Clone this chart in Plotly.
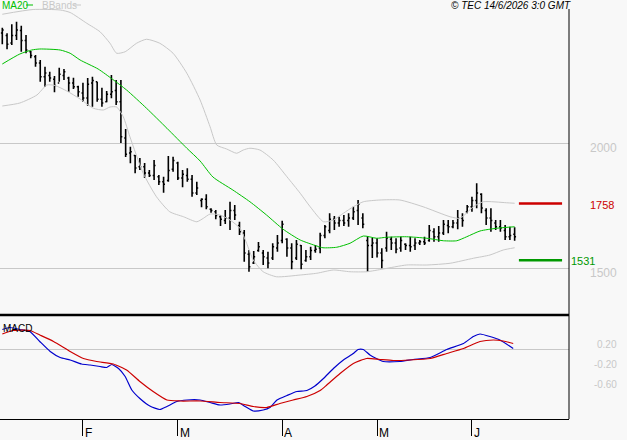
import pandas as pd
import plotly.graph_objects as go

# ---------------- data ----------------
holidays = ["2026-01-01", "2026-04-03", "2026-04-06", "2026-05-01"]
all_days = pd.bdate_range("2026-01-08", "2026-06-12")
dates = [d for d in all_days if d.strftime("%Y-%m-%d") not in holidays]
idx = list(range(len(dates)))

high = [2461, 2439, 2475, 2485, 2469, 2432, 2368, 2352, 2332, 2305, 2285, 2268, 2301, 2296, 2265, 2261, 2229,
        2241, 2260, 2265, 2245, 2221, 2208, 2272, 2252, 2252, 2056, 1985, 1952, 1940, 1920, 1892, 1932, 1872, 1865, 1948, 1945,
        1925, 1892, 1899, 1872, 1845, 1779, 1795, 1739, 1732, 1712, 1732, 1765, 1752, 1685, 1652, 1572, 1568, 1604, 1572, 1565, 1599, 1632,
        1689, 1619, 1599, 1612, 1592, 1572, 1585, 1592, 1641, 1672, 1719, 1708, 1705, 1712, 1719, 1745, 1772, 1719, 1628, 1620,
        1619, 1579, 1645, 1625, 1619, 1625, 1599, 1625, 1619, 1612, 1625, 1672, 1659, 1668, 1692, 1692, 1692, 1732, 1719, 1752,
        1785, 1839, 1799, 1739, 1739, 1692, 1692, 1672, 1665, 1663]
low = [2395, 2375, 2392, 2412, 2365, 2359, 2339, 2305, 2245, 2225, 2245, 2203, 2245, 2252, 2205, 2216, 2185,
       2165, 2149, 2145, 2165, 2145, 2163, 2179, 2152, 2000, 1944, 1919, 1879, 1892, 1860, 1864, 1852, 1832, 1801, 1845, 1885,
       1852, 1823, 1845, 1785, 1792, 1743, 1735, 1721, 1695, 1668, 1676, 1652, 1692, 1632, 1525, 1485, 1516, 1565, 1512, 1499, 1532, 1565,
       1599, 1545, 1495, 1532, 1495, 1525, 1532, 1561, 1559, 1619, 1639, 1652, 1665, 1668, 1665, 1692, 1672, 1659, 1484, 1540,
       1542, 1499, 1565, 1572, 1559, 1565, 1572, 1565, 1572, 1592, 1592, 1605, 1605, 1605, 1632, 1639, 1659, 1655, 1665, 1719,
       1725, 1739, 1719, 1672, 1645, 1652, 1645, 1612, 1612, 1609]
open_ = [2440, 2430, 2400, 2430, 2450, 2410, 2365, 2345, 2320, 2265, 2270, 2255, 2240, 2270, 2260, 2240, 2225,
         2200, 2180, 2240, 2245, 2175, 2165, 2195, 2210, 2165, 2020, 1960, 1950, 1905, 1905, 1880, 1870, 1865, 1845, 1850, 1895,
         1920, 1860, 1870, 1855, 1800, 1770, 1775, 1735, 1725, 1705, 1690, 1700, 1730, 1670, 1640, 1555, 1520, 1570, 1560, 1540, 1540, 1580,
         1610, 1615, 1580, 1540, 1590, 1530, 1545, 1570, 1580, 1630, 1650, 1695, 1680, 1690, 1690, 1700, 1730, 1700, 1610, 1590,
         1600, 1560, 1580, 1615, 1600, 1580, 1595, 1590, 1590, 1600, 1605, 1610, 1645, 1625, 1640, 1670, 1665, 1680, 1700, 1725,
         1745, 1770, 1795, 1730, 1700, 1680, 1665, 1650, 1625, 1635]
close = [2452, 2395, 2430, 2452, 2410, 2372, 2350, 2320, 2265, 2280, 2260, 2230, 2275, 2285, 2240, 2225, 2205,
         2180, 2235, 2250, 2175, 2160, 2195, 2205, 2165, 2025, 1955, 1965, 1900, 1905, 1880, 1870, 1910, 1845, 1835, 1890, 1930,
         1860, 1875, 1855, 1800, 1820, 1775, 1745, 1730, 1710, 1695, 1700, 1730, 1712, 1645, 1560, 1505, 1545, 1585, 1545, 1520, 1585, 1600,
         1675, 1580, 1525, 1595, 1515, 1545, 1570, 1575, 1630, 1665, 1695, 1680, 1690, 1680, 1700, 1725, 1755, 1675, 1590, 1600,
         1560, 1530, 1620, 1600, 1575, 1610, 1590, 1585, 1600, 1605, 1600, 1650, 1625, 1640, 1675, 1665, 1680, 1700, 1690, 1745,
         1770, 1800, 1740, 1700, 1690, 1665, 1660, 1625, 1630, 1625]

# MA20 and Bollinger bands (bar index, price)
ma_x = [0, 3.7, 6.2, 7.9, 12.2, 14.3, 16.4, 20.2, 23.3, 26.2, 30.4, 34.7, 38.9, 41.7, 44.4, 48.6, 52.2, 55.7,
        59.2, 62.8, 66.3, 67.6, 70.5, 73.3, 76.1, 78.9, 81.0, 85.2, 89.5, 93.0, 95.8, 97.9, 100.7, 104.2, 108]
ma_val = [2316, 2356, 2372, 2376, 2372, 2359, 2332, 2296, 2254, 2212, 2139, 2059, 1979, 1928, 1864, 1812, 1765, 1712,
          1655, 1612, 1588, 1581, 1583, 1599, 1628, 1619, 1623, 1625, 1619, 1609, 1609, 1625, 1648, 1659, 1665]
up_x = [0, 6.5, 12.2, 14.3, 17.8, 20.6, 22.7, 24.1, 25.9, 28.3, 30.4, 33.2, 36.0, 38.9, 41.7, 43.8, 45.2, 47.3,
        49.4, 50.8, 52.2, 54.3, 57.1, 60.0, 62.8, 64.9, 67.7, 69.8, 71.9, 74.0, 76.1, 79.6, 83.8, 88.7, 94.4, 96.5,
        99.3, 101.4, 106.3, 108]
up_val = [2515, 2534, 2532, 2522, 2479, 2445, 2399, 2359, 2365, 2399, 2415, 2399, 2359, 2279, 2172, 2065, 1992, 1976,
          1959, 1972, 1979, 1972, 1932, 1865, 1799, 1745, 1685, 1692, 1719, 1745, 1765, 1772, 1772, 1745, 1705, 1699,
          1745, 1765, 1761, 1759]
lo_x = [0, 3.7, 7.3, 9.4, 11.1, 13.6, 16.4, 19.2, 21.3, 22.7, 24.1, 25.5, 26.9, 29.7, 32.5, 35.3, 38.2, 41.0,
        42.4, 43.8, 45.9, 48.0, 50.1, 51.5, 52.9, 55.0, 57.8, 62.8, 66.3, 69.8, 73.3, 76.8, 80.3, 85.2, 89.5, 94.4,
        99.3, 102.8, 105.6, 108]
lo_val = [2148, 2160, 2192, 2232, 2230, 2208, 2176, 2139, 2132, 2144, 2144, 2105, 2025, 1879, 1785, 1725, 1705, 1685,
          1699, 1716, 1712, 1692, 1659, 1599, 1532, 1485, 1465, 1472, 1479, 1492, 1485, 1485, 1496, 1512, 1512, 1519,
          1539, 1552, 1572, 1581]

# MACD (blue) and signal (red)
macd_x = [0, 1.6, 3.7, 5.8, 7.9, 10.1, 12.2, 14.3, 16.7, 18.5, 20.6, 22.0, 23.1, 24.5, 25.9, 27.3, 29.0, 31.1,
          33.2, 34.7, 36.8, 38.9, 41.7, 43.8, 45.9, 48.0, 49.8, 51.2, 52.9, 55.0, 56.4, 57.9, 60.0, 62.1, 64.2,
          65.9, 67.7, 69.8, 71.9, 74.0, 75.0, 76.1, 77.5, 80.3, 83.8, 86.6, 90.2, 93.7, 97.2, 99.3, 100.7, 102.8,
          104.9, 107.7]
macd_val = [0.39, 0.43, 0.39, 0.35, 0.15, -0.05, -0.17, -0.22, -0.30, -0.32, -0.35, -0.37, -0.31, -0.39, -0.55,
            -0.82, -0.99, -1.14, -1.21, -1.15, -1.05, -1.02, -1.02, -1.07, -1.12, -1.10, -1.07, -1.15, -1.24, -1.22,
            -1.17, -1.02, -0.93, -0.85, -0.83, -0.74, -0.59, -0.39, -0.22, -0.09, -0.01, -0.01, -0.12, -0.25, -0.25,
            -0.21, -0.17, -0.01, 0.11, 0.25, 0.30, 0.25, 0.18, 0.01]
sig_x = [0, 2.3, 5.8, 7.9, 10.8, 14.3, 17.1, 19.9, 23.4, 26.2, 29.0, 31.8, 34.7, 37.5, 41.7, 45.9, 50.1, 52.9,
         55.7, 58.5, 61.3, 64.2, 67.0, 68.4, 71.2, 74.0, 76.8, 79.6, 82.4, 85.9, 90.2, 93.7, 97.2, 100.7, 103.5,
         105.6, 107.7]
sig_val = [0.30, 0.37, 0.37, 0.28, 0.15, -0.05, -0.19, -0.25, -0.30, -0.42, -0.65, -0.85, -1.02, -1.04, -1.04,
           -1.07, -1.09, -1.15, -1.17, -1.09, -1.02, -0.95, -0.83, -0.72, -0.49, -0.29, -0.19, -0.21, -0.23, -0.22,
           -0.19, -0.09, 0.01, 0.15, 0.18, 0.16, 0.11]

resistance = 1758
support = 1531
price_ticks = [1500, 2000]
macd_ticks = [0.2, -0.2, -0.6]
month_labels = ["F", "M", "A", "M", "J"]

# ---------------- figure ----------------
BG = "#f8f8f8"
GRID = "#c8c8c8"
FONT = "Liberation Sans"

month_idx = []
for i, d in enumerate(dates):
    if i > 0 and d.month != dates[i - 1].month:
        month_idx.append(i)

fig = go.Figure()
fig.add_trace(go.Scatter(x=up_x, y=up_val, mode="lines", line=dict(color=GRID, width=1, shape="spline", smoothing=0.6),
                         xaxis="x", yaxis="y", hoverinfo="skip"))
fig.add_trace(go.Scatter(x=lo_x, y=lo_val, mode="lines", line=dict(color=GRID, width=1, shape="spline", smoothing=0.6),
                         xaxis="x", yaxis="y", hoverinfo="skip"))
fig.add_trace(go.Scatter(x=ma_x, y=ma_val, mode="lines", line=dict(color="#00c000", width=1, shape="spline", smoothing=0.6),
                         xaxis="x", yaxis="y", hoverinfo="skip"))
fig.add_trace(go.Ohlc(x=idx, open=open_, high=high, low=low, close=close,
                      increasing=dict(line=dict(color="black", width=1.6)),
                      decreasing=dict(line=dict(color="black", width=1.6)),
                      tickwidth=0.3, xaxis="x", yaxis="y"))
fig.add_trace(go.Scatter(x=macd_x, y=macd_val, mode="lines", line=dict(color="#0000cc", width=1.2, shape="spline", smoothing=0.5),
                         xaxis="x", yaxis="y2", hoverinfo="skip"))
fig.add_trace(go.Scatter(x=sig_x, y=sig_val, mode="lines", line=dict(color="#cc0000", width=1.2, shape="spline", smoothing=0.5),
                         xaxis="x", yaxis="y2", hoverinfo="skip"))

PH = 419.0  # plot height in px
fig.update_layout(
    width=627, height=440,
    margin=dict(l=0, r=58, t=0, b=21),
    paper_bgcolor=BG, plot_bgcolor=BG,
    showlegend=False,
    font=dict(family=FONT, size=10, color="black"),
    xaxis=dict(range=[-0.485, 119.46], anchor="y2", showgrid=False, zeroline=False,
               showline=True, linecolor="black", linewidth=1,
               ticks="outside", ticklen=16, tickwidth=1, tickcolor="black",
               tickvals=month_idx, showticklabels=False,
               rangeslider=dict(visible=False)),
    yaxis=dict(domain=[(PH - 313) / PH, 1], range=[1320, 2572], side="right",
               tickvals=price_ticks, showticklabels=False, gridcolor=GRID, gridwidth=1,
               zeroline=False, showline=False),
    yaxis2=dict(domain=[0, (PH - 316) / PH], range=[-1.40, 0.66], side="right",
                tickvals=[0], showticklabels=False, gridcolor=GRID, gridwidth=1,
                zeroline=False, showline=False),
)

shapes = [
    dict(type="line", xref="paper", yref="paper", x0=0, x1=1, y0=(PH - 315) / PH, y1=(PH - 315) / PH,
         line=dict(color="black", width=2.5)),
    dict(type="line", xref="paper", yref="paper", x0=1, x1=1, y0=0, y1=(PH - 9) / PH,
         line=dict(color="black", width=1)),
    dict(type="line", xref="x", yref="y", x0=108.9, x1=118.0, y0=resistance, y1=resistance,
         line=dict(color="#cc0000", width=2.5)),
    dict(type="line", xref="x", yref="y", x0=108.9, x1=118.0, y0=support, y1=support,
         line=dict(color="#009900", width=2.5)),
    dict(type="line", xref="paper", yref="paper", x0=26 / 569, x1=33 / 569, y0=(PH - 5) / PH, y1=(PH - 5) / PH,
         line=dict(color="#00c000", width=1)),
    dict(type="line", xref="paper", yref="paper", x0=73 / 569, x1=81 / 569, y0=(PH - 5) / PH, y1=(PH - 5) / PH,
         line=dict(color=GRID, width=1)),
]
fig.update_layout(shapes=shapes)

ann = []
for v in price_ticks:
    ann.append(dict(text=str(v), xref="paper", x=1, xanchor="right", xshift=50, yref="y", y=v, yshift=-5,
                    yanchor="middle", showarrow=False, font=dict(size=12, color=GRID)))
for v in macd_ticks:
    ann.append(dict(text=f"{v:.2f}", xref="paper", x=1, xanchor="right", xshift=50, yref="y2", y=v, yshift=-5,
                    yanchor="middle", showarrow=False, font=dict(size=10, color=GRID)))
ann.append(dict(text=str(resistance), xref="paper", x=1, xanchor="right", xshift=47, yref="y", y=resistance,
                yshift=-1, yanchor="middle", showarrow=False, font=dict(size=11, color="#cc0000")))
ann.append(dict(text=str(support), xref="paper", x=1, xanchor="left", xshift=0, yref="y", y=support,
                yshift=-1, yanchor="middle", showarrow=False, font=dict(size=11, color="#009900")))
for i, lab in zip(month_idx, month_labels):
    ann.append(dict(text=lab, xref="x", x=i, xanchor="left", xshift=0, yref="paper", y=0, yshift=-14,
                    yanchor="middle", showarrow=False, font=dict(size=12, color="black")))
ann.append(dict(text="MA20", xref="paper", x=0, xanchor="left", xshift=0, yref="paper", y=1, yshift=-5,
                yanchor="middle", showarrow=False, font=dict(size=10, color="#00c000")))
ann.append(dict(text="BBands", xref="paper", x=40 / 569, xanchor="left", yref="paper", y=1, yshift=-5,
                yanchor="middle", showarrow=False, font=dict(size=10, color=GRID)))
ann.append(dict(text="<i>© TEC 14/6/2026 3:0 GMT</i>", xref="paper", x=511 / 569, xanchor="center",
                yref="paper", y=1, yshift=-5, yanchor="middle", showarrow=False,
                font=dict(size=10, color="black")))
ann.append(dict(text="MACD", xref="paper", x=0, xanchor="left", xshift=1, yref="paper", y=(PH - 328) / PH,
                yanchor="middle", showarrow=False, font=dict(size=10, color="black")))
fig.update_layout(annotations=ann)

fig.write_html("out.html")
